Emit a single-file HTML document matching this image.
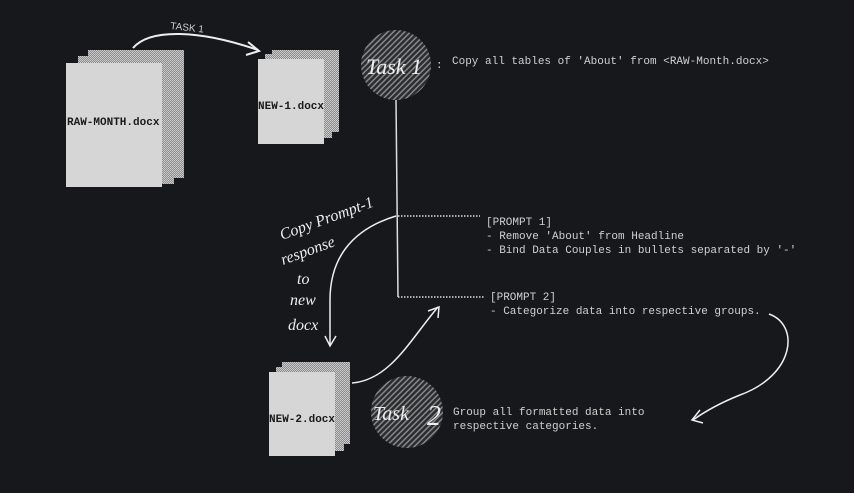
<!DOCTYPE html>
<html><head><style>
html,body{margin:0;padding:0;background:#16181c;}
svg{display:block}
.m{font-family:"Liberation Mono",monospace;font-size:11px;fill:#d0d0d0}
.b{font-family:"Liberation Mono",monospace;font-size:11px;font-weight:bold;fill:#1a1a1a}
.h{font-family:"Liberation Serif",serif;font-style:italic;fill:#eee}
</style></head><body>
<svg width="854" height="493" viewBox="0 0 854 493" xmlns="http://www.w3.org/2000/svg">
<defs>
<pattern id="dots" width="2" height="2" patternUnits="userSpaceOnUse"><rect width="2" height="2" fill="#8a8a8a"/><rect width="1" height="1" fill="#d0d0d0"/><rect x="1" y="1" width="1" height="1" fill="#c8c8c8"/></pattern>
<pattern id="hatch" width="4" height="4" patternUnits="userSpaceOnUse" patternTransform="rotate(45)"><rect width="4" height="4" fill="#2a2c30"/><rect width="1.5" height="4" fill="#888"/></pattern>
</defs>
<rect width="854" height="493" fill="#16181c"/>
<rect x="88" y="50" width="96" height="128" fill="url(#dots)"/>
<rect x="78" y="56" width="96" height="128" fill="url(#dots)"/>
<rect x="66" y="63" width="96" height="124" fill="#d6d6d6"/>
<text class="b" x="67" y="125">RAW-MONTH.docx</text>
<rect x="272" y="50" width="67" height="82" fill="url(#dots)"/>
<rect x="265" y="54" width="67" height="84" fill="url(#dots)"/>
<rect x="258" y="59" width="66" height="85" fill="#d6d6d6"/>
<text class="b" x="258" y="109">NEW-1.docx</text>
<path d="M133 48 C150 28 200 30 258 50" stroke="#eee" stroke-width="2" fill="none"/>
<path d="M248 42 L259 51 L246 55" stroke="#eee" stroke-width="2" fill="none"/>
<text x="170" y="29" font-family="Liberation Sans,sans-serif" font-size="10" fill="#ccc" transform="rotate(6 170 29)">TASK 1</text>
<circle cx="396" cy="65" r="35" fill="url(#hatch)"/>
<text class="h" x="366" y="74" font-size="22">Task 1</text>
<text class="m" x="436" y="68">:</text>
<text class="m" x="452" y="64">Copy all tables of 'About' from &lt;RAW-Month.docx&gt;</text>
<line x1="396" y1="100" x2="398" y2="297" stroke="#ddd" stroke-width="1.5"/>
<line x1="398" y1="216" x2="480" y2="216" stroke="#ddd" stroke-width="1.5" stroke-dasharray="1.5 1.5"/>
<line x1="398" y1="297" x2="484" y2="297" stroke="#ddd" stroke-width="1.5" stroke-dasharray="1.5 1.5"/>
<text class="m" x="486" y="225">[PROMPT 1]</text>
<text class="m" x="486" y="239">- Remove 'About' from Headline</text>
<text class="m" x="486" y="253">- Bind Data Couples in bullets separated by '-'</text>
<text class="m" x="490" y="300">[PROMPT 2]</text>
<text class="m" x="490" y="314">- Categorize data into respective groups.</text>
<path d="M396 216 C350 230 330 260 330 300 L330 345" stroke="#eee" stroke-width="1.5" fill="none"/>
<path d="M325 336 L330 346 L336 336" stroke="#eee" stroke-width="1.5" fill="none"/>
<text class="h" font-size="16" x="282" y="240" transform="rotate(-20 282 240)">Copy Prompt-1</text>
<text class="h" font-size="16" x="283" y="265" transform="rotate(-20 283 265)">response</text>
<text class="h" font-size="16" x="297" y="284">to</text>
<text class="h" font-size="16" x="290" y="305">new</text>
<text class="h" font-size="16" x="288" y="330">docx</text>
<rect x="282" y="362" width="68" height="82" fill="url(#dots)"/>
<rect x="276" y="367" width="68" height="84" fill="url(#dots)"/>
<rect x="269" y="372" width="66" height="84" fill="#d6d6d6"/>
<text class="b" x="269" y="422">NEW-2.docx</text>
<path d="M352 383 C390 380 410 340 438 307" stroke="#eee" stroke-width="1.5" fill="none"/>
<path d="M428 311 L439 307 L438 318" stroke="#eee" stroke-width="1.5" fill="none"/>
<circle cx="407" cy="412" r="36" fill="url(#hatch)"/>
<text class="h" x="373" y="420" font-size="20">Task</text>
<text class="h" x="427" y="425" font-size="28">2</text>
<text class="m" x="453" y="415">Group all formatted data into</text>
<text class="m" x="453" y="429">respective categories.</text>
<path d="M769 314 C800 325 795 375 740 395 C715 405 700 415 693 420" stroke="#eee" stroke-width="1.5" fill="none"/>
<path d="M700 410 L692 420 L703 423" stroke="#eee" stroke-width="1.5" fill="none"/>
</svg>
</body></html>
